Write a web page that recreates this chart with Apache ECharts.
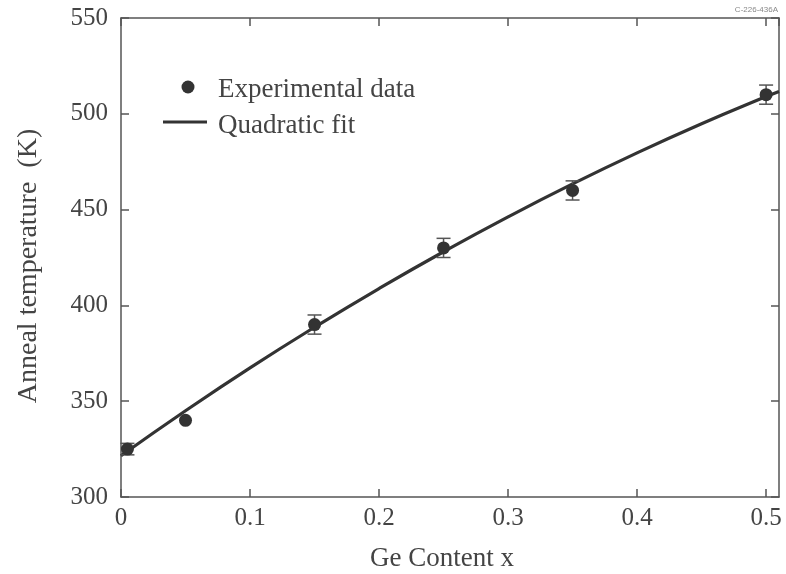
<!DOCTYPE html>
<html>
<head>
<meta charset="utf-8">
<script src="https://cdn.jsdelivr.net/npm/echarts@6/dist/echarts.min.js"></script>
<style>html,body{margin:0;padding:0;background:#fff}#c{width:786px;height:574px}</style>
</head>
<body>
<div id="c"></div>
<script>
// Measured anneal temperatures vs Ge content
const geContent = [0.005, 0.05, 0.15, 0.25, 0.35, 0.5];
const annealTemp = [325, 340, 390, 430, 460, 510];
const tempError = [3, 0, 5, 5, 5, 5];

// Quadratic fit curve, sampled along x
const fitX = [0, 0.05, 0.1, 0.15, 0.2, 0.25, 0.3, 0.35, 0.4, 0.45, 0.5, 0.51];
const fitY = [321.5, 345, 367.4, 388.6, 408.8, 428, 446.2, 463.4, 479.6, 494.8, 509, 511.7];

const xTicks = [0, 0.1, 0.2, 0.3, 0.4, 0.5];
const yTicks = [300, 350, 400, 450, 500, 550];

const ink = '#333';
const textColor = '#444';
const axisColor = '#555';
const serif = '"Liberation Serif", "DejaVu Serif", serif';

const points = geContent.map((x, i) => [x, annealTemp[i]]);
const errData = geContent.map((x, i) => [x, annealTemp[i] - tempError[i], annealTemp[i] + tempError[i]]);
const fitLine = fitX.map((x, i) => [x, fitY[i]]);

// Boxed frame: every side gets a line with short inward ticks
function frameAxis(extra) {
  return Object.assign({
    axisLine: { show: true, onZero: false, lineStyle: { color: axisColor, width: 1.5 } },
    axisTick: { show: true, inside: true, length: 8, lineStyle: { color: axisColor, width: 1.5 } },
    splitLine: { show: false }
  }, extra);
}

const chart = echarts.init(document.getElementById('c'));
chart.setOption({
  animation: false,
  grid: { left: 121, top: 18, right: 7, bottom: 77 },
  graphic: [
    { type: 'text', right: 8, top: 6, style: { text: 'C-226-436A', fill: '#888', font: '8px "Liberation Sans", sans-serif' } },
    { type: 'circle', shape: { cx: 188, cy: 87, r: 6.5 }, style: { fill: ink } },
    { type: 'text', x: 218, y: 89.5, style: { text: 'Experimental data', fill: textColor, font: '27px ' + serif, verticalAlign: 'middle' } },
    { type: 'line', shape: { x1: 163, y1: 122, x2: 207, y2: 122 }, style: { stroke: ink, lineWidth: 3 } },
    { type: 'text', x: 218, y: 125.5, style: { text: 'Quadratic fit', fill: textColor, font: '27px ' + serif, verticalAlign: 'middle' } },
    { type: 'text', x: 442, y: 558.5, style: { text: 'Ge Content x', fill: textColor, font: '27px ' + serif, align: 'center', verticalAlign: 'middle' } },
    { type: 'text', x: 29, y: 266, rotation: Math.PI / 2, style: { text: 'Anneal temperature  (K)', fill: textColor, font: '28px ' + serif, align: 'center', verticalAlign: 'middle' } }
  ],
  xAxis: [
    frameAxis({
      type: 'value', min: 0, max: 0.51, interval: 0.1,
      axisLabel: {
        fontFamily: serif, fontSize: 25, color: textColor, margin: 9, showMaxLabel: false,
        formatter: v => {
          const t = Math.round(v * 10) / 10;
          return xTicks.includes(t) ? String(t) : '';
        }
      }
    }),
    frameAxis({
      type: 'value', position: 'top', min: 0, max: 0.51, interval: 0.1,
      axisLabel: { show: false }
    })
  ],
  yAxis: [
    frameAxis({
      type: 'value', position: 'left', min: 300, max: 550, interval: 50,
      axisLabel: {
        fontFamily: serif, fontSize: 25, color: textColor, margin: 13,
        formatter: v => yTicks.includes(v) ? String(v) : ''
      }
    }),
    frameAxis({
      type: 'value', position: 'right', min: 300, max: 550, interval: 50,
      axisLabel: { show: false }
    })
  ],
  series: [
    {
      type: 'line', data: fitLine, smooth: true, symbol: 'none',
      lineStyle: { color: ink, width: 3.2 }, z: 2
    },
    {
      type: 'custom', data: errData, z: 3,
      renderItem: (params, api) => {
        if (api.value(2) === api.value(1)) return null;
        const lo = api.coord([api.value(0), api.value(1)]);
        const hi = api.coord([api.value(0), api.value(2)]);
        const w = 7;
        const st = { stroke: '#555', lineWidth: 1.5 };
        return {
          type: 'group', children: [
            { type: 'line', shape: { x1: lo[0], y1: lo[1], x2: hi[0], y2: hi[1] }, style: st },
            { type: 'line', shape: { x1: lo[0] - w, y1: lo[1], x2: lo[0] + w, y2: lo[1] }, style: st },
            { type: 'line', shape: { x1: hi[0] - w, y1: hi[1], x2: hi[0] + w, y2: hi[1] }, style: st }
          ]
        };
      }
    },
    {
      type: 'scatter', data: points, symbol: 'circle', symbolSize: 13,
      itemStyle: { color: ink, opacity: 1 }, z: 4
    }
  ]
});
</script>
</body>
</html>
